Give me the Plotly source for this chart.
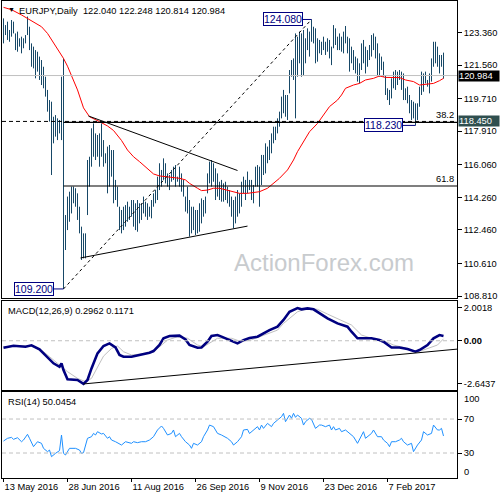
import plotly.graph_objects as go

# ---------------- data ----------------
date_ticks = [0, 32, 64, 96, 128, 160, 192]
date_labels = ["13 May 2016", "28 Jun 2016", "11 Aug 2016", "26 Sep 2016",
               "9 Nov 2016", "23 Dec 2016", "7 Feb 2017"]

bar_high = [124.14, 123.77, 123.96, 123.50, 124.05, 123.96, 123.31, 123.41, 123.04, 123.13,
            123.04, 123.22, 124.24, 123.68, 122.76, 122.58, 122.39, 122.30, 122.03, 121.84,
            121.47, 120.92, 120.19, 119.63, 119.54, 118.71, 118.80, 118.62, 118.53, 120.92,
            121.93, 113.28, 114.30, 114.57, 114.85, 114.85, 114.76, 114.48, 113.74, 112.64,
            112.27, 112.27, 116.32, 116.50, 118.07, 118.34, 117.79, 117.70, 117.79, 118.34,
            117.42, 116.69, 117.06, 117.15, 116.87, 116.87, 115.22, 114.85, 113.74, 113.56,
            113.74, 113.83, 114.02, 113.74, 114.11, 114.11, 113.93, 114.11, 113.93, 113.93,
            114.30, 114.02, 113.93, 113.74, 114.11, 114.48, 114.66, 115.40, 116.14, 115.77,
            116.41, 116.14, 115.58, 115.49, 115.77, 115.95, 116.04, 115.40, 115.95, 115.58,
            115.22, 114.30, 114.85, 114.11, 113.74, 113.74, 113.56, 113.56, 113.93, 114.20,
            114.11, 114.30, 115.58, 116.23, 116.32, 116.14, 115.86, 115.58, 115.12, 115.22,
            115.03, 115.12, 114.85, 114.66, 114.30, 114.11, 114.30, 114.66, 114.48, 115.12,
            115.40, 115.22, 115.68, 115.22, 115.22, 114.94, 115.95, 116.04, 115.95, 116.60,
            116.60, 117.24, 117.06, 117.42, 117.79, 118.16, 118.16, 118.62, 118.99, 119.82,
            120.19, 119.91, 119.91, 121.29, 121.84, 121.93, 123.31, 123.13, 123.41, 123.31,
            123.50, 123.04, 123.59, 123.41, 124.08, 123.68, 123.59, 123.04, 122.95, 122.85,
            123.13, 122.85, 123.04, 122.95, 122.58, 123.77, 123.59, 123.13, 123.31, 123.13,
            123.41, 123.72, 123.13, 123.04, 122.58, 122.39, 122.03, 121.93, 121.66, 122.76,
            122.95, 122.58, 122.39, 122.67, 123.22, 123.31, 123.13, 122.76, 122.21, 122.03,
            121.75, 121.01, 120.28, 120.19, 120.83, 121.20, 121.29, 121.20, 121.29, 121.20,
            121.10, 120.28, 120.37, 119.91, 119.63, 119.54, 119.45, 119.45, 120.37, 121.20,
            121.10, 121.20, 120.74, 121.10, 121.93, 122.85, 122.85, 122.58, 122.12, 122.12,
            122.248]

bar_low = [122.76, 123.22, 122.95, 122.85, 123.13, 123.31, 122.39, 122.30, 122.58, 122.21,
           122.49, 122.76, 123.22, 122.39, 121.47, 121.38, 120.83, 121.20, 120.74, 120.46,
           120.28, 119.82, 118.99, 118.44, 115.49, 117.24, 117.61, 117.42, 117.79, 117.42,
           109.20, 111.35, 112.45, 112.91, 113.37, 113.93, 113.74, 113.01, 112.27, 110.80,
           110.89, 110.89, 113.28, 114.85, 115.95, 116.50, 116.32, 116.50, 115.95, 116.50,
           115.95, 116.14, 114.48, 114.85, 115.40, 113.93, 114.11, 113.74, 112.45, 112.27,
           112.45, 112.64, 112.91, 113.01, 113.19, 112.64, 112.45, 112.36, 112.82, 113.01,
           113.37, 113.19, 113.01, 113.19, 113.10, 113.74, 113.93, 114.11, 114.66, 114.85,
           115.22, 115.03, 114.85, 114.66, 115.12, 115.22, 114.85, 115.12, 114.85, 114.57,
           114.30, 113.47, 113.37, 112.09, 112.27, 112.45, 112.18, 112.27, 112.36, 112.82,
           113.19, 113.37, 114.48, 115.03, 114.85, 115.12, 114.11, 114.30, 114.11, 114.02,
           114.02, 114.11, 113.93, 113.74, 113.19, 112.55, 112.82, 113.19, 113.37, 113.74,
           114.48, 114.11, 114.48, 114.66, 114.11, 113.93, 114.85, 114.85, 113.74, 114.94,
           115.49, 115.58, 116.14, 116.32, 116.69, 117.24, 117.42, 117.79, 118.16, 118.62,
           118.90, 118.71, 118.53, 120.00, 120.92, 120.74, 118.62, 120.92, 121.66, 120.92,
           121.01, 121.66, 122.39, 122.03, 122.85, 122.76, 121.66, 121.75, 122.21, 122.12,
           122.39, 122.12, 122.30, 121.93, 121.56, 122.49, 122.67, 122.39, 122.39, 122.30,
           122.21, 122.76, 122.21, 121.20, 121.66, 121.29, 121.10, 120.65, 120.55, 121.29,
           121.66, 121.10, 121.47, 121.84, 122.03, 122.39, 121.93, 121.01, 120.92, 121.29,
           120.92, 119.91, 119.63, 119.36, 119.72, 120.28, 120.19, 120.46, 120.74, 120.19,
           119.63, 119.63, 119.45, 118.90, 118.53, 118.62, 118.23, 118.53, 119.26, 119.91,
           120.09, 120.55, 120.37, 120.00, 120.65, 121.47, 121.66, 121.47, 121.10, 121.47,
           120.814]

ma_idx = [0, 4, 9, 12, 15, 19, 22, 25, 28, 30, 32, 34, 37, 40, 43, 48, 52, 55, 59, 62,
          65, 68, 72, 75, 78, 82, 85, 88, 91, 93, 97, 99, 102, 105, 108, 112, 115, 118, 122, 125,
          128, 132, 135, 138, 142, 145, 147, 150, 153, 157, 160, 163, 167, 169, 171, 175, 178, 181,
          185, 188, 191, 195, 198, 201, 205, 208, 211, 215, 218, 220]
ma_val = [124.75, 124.62, 124.33, 124.14, 123.96, 123.68, 123.31, 122.80, 122.25, 121.93,
          121.50, 121.01, 120.19, 119.20, 118.71, 118.44, 118.20, 117.95, 117.40, 116.87,
          116.50, 116.23, 115.86, 115.55, 115.44, 115.40, 115.36, 115.31, 115.22, 115.03,
          114.76, 114.63, 114.66, 114.76, 114.76, 114.66, 114.57, 114.48, 114.48, 114.52,
          114.57, 114.76, 115.03, 115.31, 115.77, 116.32, 116.78, 117.33, 117.88, 118.34,
          118.80, 119.27, 119.63, 119.91, 120.28, 120.46, 120.55, 120.74, 120.83, 120.96,
          120.88, 120.87, 120.87, 120.74, 120.65, 120.46, 120.50, 120.55, 120.70, 120.83]

macd_idx = [0, 5, 11, 14, 18, 21, 25, 28, 29, 30, 32, 37, 40, 42, 44, 47, 50, 53, 56, 58,
            60, 64, 68, 73, 75, 78, 80, 83, 88, 91, 93, 97, 99, 102, 104, 107, 109, 113, 117, 120,
            123, 127, 130, 133, 137, 140, 143, 147, 149, 152, 155, 158, 162, 167, 172, 174, 177, 180,
            184, 188, 190, 194, 198, 202, 206, 208, 212, 215, 218, 220]
macd_val = [-0.43, -0.31, -0.37, -0.28, -0.53, -0.87, -1.38, -1.59, -1.38, -1.79, -2.36, -2.40,
            -2.64, -2.40, -1.69, -0.77, -0.32, -0.16, -0.41, -0.87, -0.98, -0.98, -0.87, -0.73,
            -0.63, -0.26, 0.15, 0.29, 0.31, 0.08, -0.26, -0.43, -0.41, -0.06, 0.29, 0.35, 0.25,
            0.04, -0.16, 0.04, 0.17, 0.25, 0.45, 0.65, 0.86, 1.27, 1.77, 2.00, 1.92, 1.98, 1.92,
            1.67, 1.37, 1.06, 0.86, 0.55, 0.15, 0.15, 0.15, 0.04, -0.06, -0.41, -0.41, -0.51,
            -0.67, -0.57, -0.26, 0.15, 0.35, 0.2962]

sig_idx = [0, 8, 14, 20, 27, 32, 37, 41, 44, 47, 50, 54, 57, 60, 64, 69, 75, 82, 87, 92,
           97, 100, 104, 107, 114, 119, 124, 130, 137, 140, 147, 152, 157, 162, 167, 174, 179, 184,
           190, 195, 200, 205, 209, 214, 217, 220]
sig_val = [-0.37, -0.31, -0.32, -0.67, -1.38, -1.89, -2.30, -2.50, -2.30, -1.59, -0.94, -0.47,
           -0.32, -0.67, -0.87, -0.81, -0.67, 0.04, 0.25, 0.15, -0.26, -0.37, -0.06, 0.15, 0.15,
           -0.06, 0.06, 0.35, 0.65, 1.06, 1.77, 1.98, 1.92, 1.63, 1.37, 0.96, 0.35, 0.15, 0.0,
           -0.26, -0.41, -0.61, -0.61, -0.41, -0.26, 0.1171]

rsi_idx = [0, 2, 4, 5, 7, 9, 10, 12, 13, 14, 15, 17, 19, 20, 22, 23, 24, 26, 28, 29,
           30, 31, 33, 36, 38, 39, 40, 42, 44, 45, 46, 47, 49, 50, 52, 53, 54, 56, 59, 61,
           64, 65, 67, 69, 71, 73, 75, 77, 79, 80, 82, 84, 85, 86, 88, 89, 91, 93, 94, 95,
           97, 99, 100, 102, 103, 105, 107, 109, 112, 114, 115, 117, 119, 120, 122, 123, 125, 127, 128, 129,
           130, 132, 134, 135, 137, 139, 140, 141, 143, 144, 145, 146, 147, 149, 150, 151, 153, 154, 156, 158,
           159, 161, 163, 164, 165, 166, 168, 169, 171, 174, 175, 177, 179, 180, 181, 183, 184, 185, 187, 189,
           190, 192, 193, 194, 196, 198, 199, 200, 202, 204, 205, 207, 209, 210, 212, 214, 215, 217, 218, 219,
           220]
rsi_val = [44.1, 47.3, 48.4, 46.1, 48.0, 43.3, 45.3, 52.0, 47.3, 41.4, 37.5, 43.3, 41.4, 35.5, 31.6,
           33.5, 25.7, 29.6, 32.8, 51.2, 29.6, 27.7, 35.5, 35.5, 33.5, 29.6, 30.4, 47.3, 49.2, 53.1,
           51.2, 55.1, 52.4, 53.1, 47.3, 49.2, 45.3, 43.3, 39.4, 43.3, 41.4, 43.3, 42.2, 43.3, 43.3,
           45.3, 49.2, 57.1, 61.8, 59.0, 51.2, 53.1, 57.1, 49.2, 53.1, 49.2, 43.3, 39.4, 35.5, 41.4,
           39.4, 43.3, 49.2, 57.1, 62.9, 61.0, 53.1, 51.2, 47.3, 43.3, 39.4, 43.3, 49.2, 57.1, 57.8,
           53.0, 57.1, 61.0, 57.1, 62.9, 59.0, 64.9, 61.0, 64.9, 68.8, 72.7, 76.7, 66.9, 74.7, 70.8,
           76.7, 72.0, 74.7, 70.8, 62.9, 66.9, 70.8, 69.6, 59.0, 62.9, 62.9, 61.0, 62.9, 57.1, 61.0,
           57.1, 59.0, 55.1, 57.1, 51.2, 49.2, 41.4, 51.2, 55.1, 47.3, 51.2, 53.1, 57.1, 49.2, 49.2,
           45.3, 41.4, 37.5, 43.3, 43.3, 45.3, 47.3, 43.3, 39.4, 41.4, 31.6, 39.4, 45.3, 55.1, 51.2,
           53.1, 62.9, 57.1, 57.1, 59.0, 50.0454]

price_ticks = [123.360, 121.560, 119.710, 117.910, 116.060, 114.260, 112.460, 110.610, 108.810]
macd_ticks = [2.0018, 0.0, -2.6437]
rsi_levels = [70, 30]

last_close = 120.984
hline_level = 118.450
fib_low = (30, 109.200)
fib_high = (154, 124.080)
fib_ratios = [0.382, 0.618]
tri_upper = [(42.5, 118.75), (117, 115.74)]
tri_lower = [(38.5, 110.91), (122, 112.67)]
macd_trend = [(40, -2.64), (227, -0.51)]
low_label_118 = (206, 118.230)

# ---------------- layout constants ----------------
X0, X1 = -0.75, 226.75
FONT = "Liberation Sans, Arial, sans-serif"
BAR_COLOR = "#174867"
FS = 9.3

bx, by = [], []
for i, (h, l) in enumerate(zip(bar_high, bar_low)):
    bx += [i, i, None]
    by += [l, h, None]

fig = go.Figure()
fig.add_trace(go.Scatter(x=bx, y=by, mode="lines", line=dict(color=BAR_COLOR, width=1),
                         xaxis="x3", yaxis="y", hoverinfo="skip"))
fig.add_trace(go.Scatter(x=ma_idx, y=ma_val, mode="lines", line=dict(color="#ff0000", width=1),
                         xaxis="x3", yaxis="y"))
fig.add_trace(go.Scatter(x=sig_idx, y=sig_val, mode="lines", line=dict(color="#c0c0c0", width=1),
                         xaxis="x2", yaxis="y2"))
fig.add_trace(go.Scatter(x=macd_idx, y=macd_val, mode="lines", line=dict(color="#000080", width=2.6),
                         xaxis="x2", yaxis="y2"))
fig.add_trace(go.Scatter(x=rsi_idx, y=rsi_val, mode="lines", line=dict(color="#1e90ff", width=1),
                         xaxis="x", yaxis="y3"))

shapes = []
def seg(x0, y0, x1, y1, xref, yref, color="black", width=1, dash="solid"):
    shapes.append(dict(type="line", x0=x0, y0=y0, x1=x1, y1=y1, xref=xref, yref=yref,
                       line=dict(color=color, width=width, dash=dash), layer="above"))

seg(X0, last_close, X1, last_close, "x3", "y", color="#c0c0c0")
seg(X0, hline_level, X1, hline_level, "x3", "y", dash="4px,3px")
rng = fib_high[1] - fib_low[1]
for r in fib_ratios:
    lvl = fib_high[1] - r * rng
    seg(fib_low[0], lvl, X1, lvl, "x3", "y", width=1.2)
seg(fib_low[0], fib_low[1], fib_high[0], fib_high[1], "x3", "y", dash="3px,3px")
seg(*tri_upper[0], *tri_upper[1], "x3", "y")
seg(*tri_lower[0], *tri_lower[1], "x3", "y")
seg(*macd_trend[0], *macd_trend[1], "x2", "y2")
seg(X0, 0, X1, 0, "x2", "y2", color="#c0c0c0", dash="4px,3px")
for lv in rsi_levels:
    seg(X0, lv, X1, lv, "x", "y3", color="#c0c0c0", dash="4px,3px")
# label connectors
seg(25, fib_low[1], fib_low[0], fib_low[1], "x3", "y", color="#000080")
seg(149.75, fib_high[1], fib_high[0], fib_high[1], "x3", "y", color="#000080")
seg(199.75, low_label_118[1], low_label_118[0], low_label_118[1], "x3", "y", color="#000080")

ann = []
def pbox(x, y, txt):
    ann.append(dict(xref="x3", yref="y", x=x, y=y, xanchor="right", yanchor="middle",
                    text=txt, showarrow=False, bgcolor="white", bordercolor="#000080",
                    borderwidth=1, borderpad=0, font=dict(family=FONT, size=10.5, color="#000080")))
pbox(25, fib_low[1], "109.200")
pbox(149.75, fib_high[1], "124.080")
pbox(199.75, low_label_118[1], "118.230")

def rbox(y, txt, bg):
    ann.append(dict(xref="paper", yref="y", x=1, y=y, xanchor="left", yanchor="middle",
                    xshift=1, text=txt, showarrow=False, bgcolor=bg, width=40, align="left",
                    borderpad=0, font=dict(family=FONT, size=FS, color="white")))
rbox(last_close, f"{last_close:.3f}", "#000000")
rbox(hline_level, f"{hline_level:.3f}", "#2f4f4f")

for r in fib_ratios:
    lvl = fib_high[1] - r * rng
    ann.append(dict(xref="paper", yref="y", x=1, y=lvl, xanchor="right", yanchor="bottom",
                    xshift=-1, text=f"{r*100:.1f}", showarrow=False,
                    font=dict(family=FONT, size=FS, color="black")))

def ptext(xp, yp, txt, size=FS, color="black", xa="left"):
    ann.append(dict(xref="paper", yref="paper", x=(xp - 2) / 455, y=(478 - yp) / 477,
                    xanchor=xa, yanchor="middle", text=txt, showarrow=False,
                    font=dict(family=FONT, size=size, color=color)))
ptext(6, 10, "▼", size=7)
ptext(17, 11, "EURJPY,Daily  122.040 122.248 120.814 120.984")
ptext(6, 310.5, f"MACD(12,26,9) {macd_val[-1]:.4f} {sig_val[-1]:.4f}")
ptext(6, 402, f"RSI(14) {rsi_val[-1]:.4f}")
ptext(324, 262, "ActionForex.com", size=24, color="#c8cbce", xa="center")
ptext(462, 399, "100")
ptext(462, 472, "0")

ax_common = dict(showgrid=False, zeroline=False, showline=True, linecolor="black",
                 linewidth=1, mirror=True)
yfont = dict(family=FONT, size=FS, color="black")

fig.update_layout(
    width=500, height=500, margin=dict(l=2, r=43, t=1, b=22),
    paper_bgcolor="white", plot_bgcolor="white", showlegend=False,
    font=dict(family=FONT, size=FS, color="black"),
    xaxis=dict(domain=[0, 1], anchor="y3", range=[X0, X1], tickvals=date_ticks,
               ticktext=date_labels, ticks="outside", ticklen=3, tickcolor="black",
               ticklabelposition="outside right", tickfont=yfont, **ax_common),
    xaxis2=dict(domain=[0, 1], anchor="y2", range=[X0, X1], showticklabels=False, **ax_common),
    xaxis3=dict(domain=[0, 1], anchor="y", range=[X0, X1], showticklabels=False, **ax_common),
    yaxis=dict(domain=[0.37736, 1], anchor="x3", side="right", range=[108.70, 125.10],
               tickvals=price_ticks, ticktext=[f"{v:.3f}" for v in price_ticks],
               ticks="outside", ticklen=4, tickcolor="black", tickfont=yfont, **ax_common),
    yaxis2=dict(domain=[0.18449, 0.37107], anchor="x2", side="right", range=[-3.0105, 2.4297],
                tickvals=macd_ticks, ticktext=["2.0018", "<b>0.00</b>", "-2.6437"],
                ticks="outside", ticklen=4, tickcolor="black", tickfont=yfont, **ax_common),
    yaxis3=dict(domain=[0, 0.18029], anchor="x", side="right", range=[0.6, 101.8],
                tickvals=rsi_levels, ticktext=[str(v) for v in rsi_levels],
                ticks="outside", ticklen=4, tickcolor="black", tickfont=yfont, **ax_common),
    shapes=shapes, annotations=ann,
)

fig.write_html("out.html", config={"displayModeBar": False},
               post_script="document.body.style.margin='0px';")
